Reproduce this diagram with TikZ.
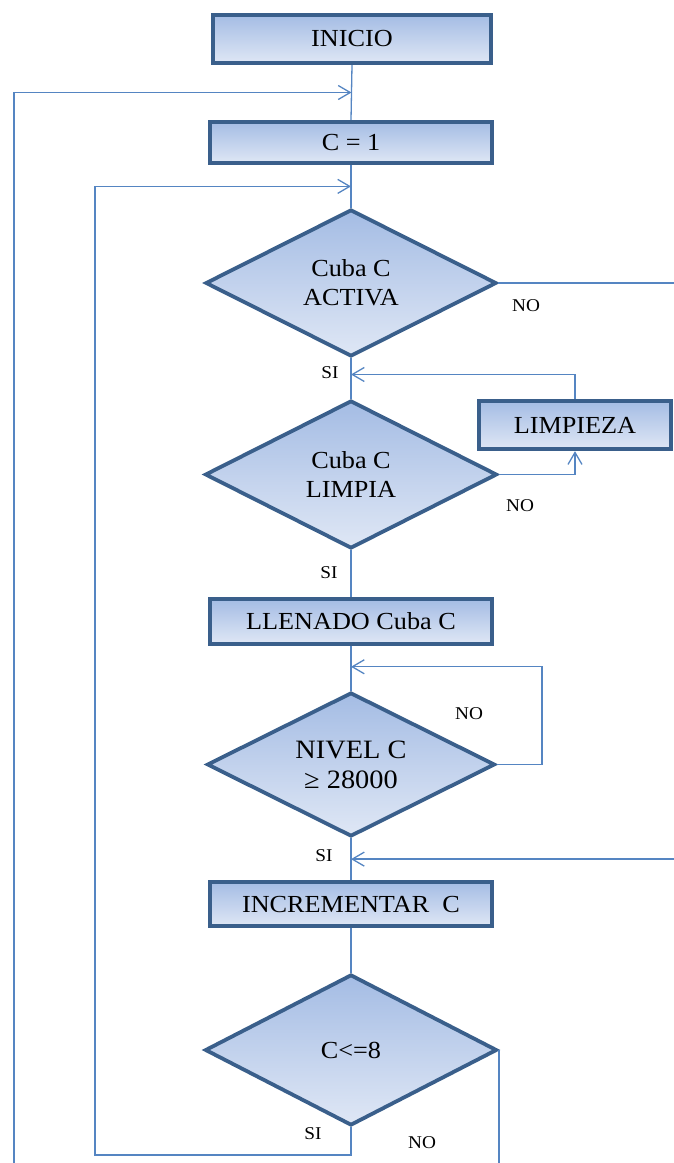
\documentclass[tikz,border=0pt]{standalone}
\usepackage{fontspec}
\setmainfont[FakeStretch=1.07]{Liberation Serif}
\usetikzlibrary{shapes.geometric,arrows.meta,calc}
\definecolor{edge}{HTML}{3A5F8B}
\definecolor{wire}{HTML}{5585C2}
\definecolor{gtop}{HTML}{A4BCE4}
\definecolor{gbot}{HTML}{DFE7F5}

\begin{document}
\begin{tikzpicture}[x=1pt,y=-1pt,
  procbox/.style={rectangle, draw=edge, line width=3.8pt, top color=gtop, bottom color=gbot,
    inner sep=0pt, font=\fontsize{24.5}{28}\selectfont},
  decision/.style={diamond, shape aspect=2, draw=edge, line width=3.8pt, top color=gtop,
    bottom color=gbot, inner sep=0pt, align=center, font=\fontsize{24.5}{29}\selectfont},
  conn/.style={draw=wire, line width=1.3pt},
  flow/.style={conn, -{Straight Barb[length=12pt,width=14pt]}},
  tag/.style={font=\fontsize{18}{20}\selectfont, inner sep=0pt}
]
\useasboundingbox (0,0) rectangle (674,1163);

% picture edges, used for the connectors that run off the sheet
\coordinate (edgeR) at (674,0);
\coordinate (edgeB) at (0,1163);

% process boxes
\node[procbox, minimum width=278.5pt, minimum height=48.5pt] (inicio) at (352,39) {INICIO};
\node[procbox, minimum width=282.5pt, minimum height=41.5pt] (c1) at (351,142.5) {C = 1};
\node[procbox, minimum width=192.5pt, minimum height=48.5pt] (limp) at (575,425) {LIMPIEZA};
\node[procbox, minimum width=282.5pt, minimum height=44.5pt] (llen) at (351,621.5) {LLENADO Cuba C};
\node[procbox, minimum width=282.5pt, minimum height=44.5pt] (inc) at (351,904) {INCREMENTAR\ \ C};

% decisions
\node[decision, minimum width=291pt, minimum height=147pt] (d1) at (351,283) {Cuba C\\ACTIVA};
\node[decision, minimum width=292pt, minimum height=148pt] (d2) at (351,474.5) {Cuba C\\LIMPIA};
\node[decision, minimum width=288pt, minimum height=144pt,
      font=\fontsize{26.5}{30}\selectfont] (d3) at (351,764.5) {NIVEL C\\≥ 28000};
\node[decision, minimum width=292pt, minimum height=151pt] (d4) at (351,1050) {C<=8};

% branch labels
\node[tag] (no1) at (526,306) {NO};
\node[tag] (si1) at (330,373) {SI};
\node[tag] (no2) at (520,506) {NO};
\node[tag] (si2) at (329,573) {SI};
\node[tag] (no3) at (469,714) {NO};
\node[tag] (si3) at (324,856) {SI};
\node[tag] (si4) at (313,1134) {SI};
\node[tag] (no4) at (422,1143) {NO};

% junction points on the main axis
\coordinate (m1) at ($(inicio.south)!0.5!(c1.north)$);
\coordinate (m2) at ($(c1.south)!0.5!(d1.north)$);
\coordinate (m3) at ($(d1.south)!0.4!(d2.north)$);
\coordinate (m4) at ($(llen.south)!0.47!(d3.north)$);
\coordinate (m5) at ($(d3.south)!0.5!(inc.north)$);
\coordinate (ret1) at (14,1163);
\coordinate (ret2) at (95,1155);

% main flow
\draw[conn] (inicio.south) -- (c1.north);
\draw[conn] (c1.south) -- (d1.north);
\draw[conn] (d1.south) -- (d2.north);
\draw[conn] (d2.south) -- (llen.north);
\draw[conn] (llen.south) -- (d3.north);
\draw[conn] (d3.south) -- (inc.north);
\draw[conn] (inc.south) -- (d4.north);

% returns and side branches
\draw[flow] (ret1) |- (m1);
\draw[flow] (d4.south) |- (ret2) |- (m2);
\draw[conn] (d1.east) -- (d1.east -| edgeR);
\draw[flow] (limp.north) |- (m3);
\draw[flow] (d2.east) -| (limp.south);
\draw[flow] (d3.east) -- ++(45,0) |- (m4);
\draw[flow] (m5 -| edgeR) -- (m5);
\draw[conn] (d4.east) -- (d4.east |- edgeB);
\end{tikzpicture}
\end{document}
